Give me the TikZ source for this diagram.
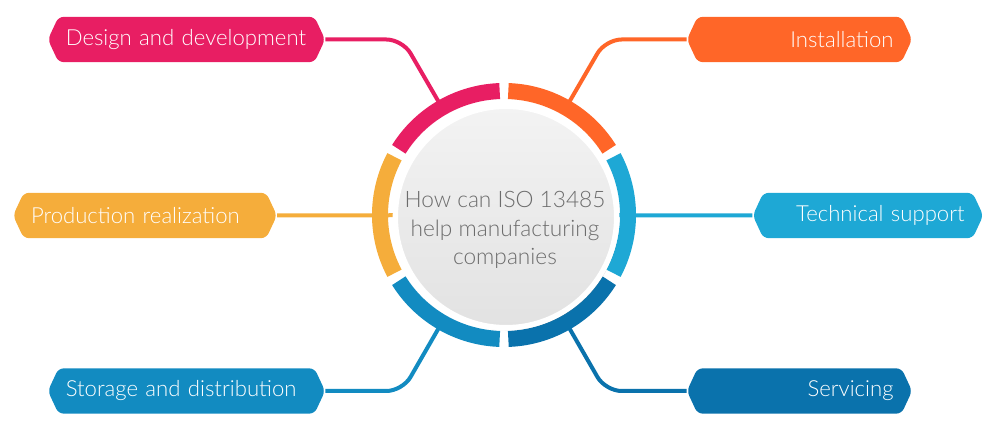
\documentclass[tikz,border=0pt]{standalone}
\usepackage{fontspec}
\setmainfont{Lato}
\newfontfamily\lightfont{Lato Light}
\usetikzlibrary{
  shapes.symbols,
  positioning,
  calc,
  shadows
}
\definecolor{designcolor}{HTML}{E81E63}
\definecolor{installcolor}{HTML}{FF6628}
\definecolor{productioncolor}{HTML}{F5AD3B}
\definecolor{supportcolor}{HTML}{1EA8D5}
\definecolor{storagecolor}{HTML}{128BC1}
\definecolor{servicingcolor}{HTML}{0A72AC}
\definecolor{questioncolor}{HTML}{6C6C6C}
\definecolor{hubtop}{HTML}{F3F3F3}
\definecolor{hubbottom}{HTML}{E2E2E2}
\tikzset{
labeltag/.style={
  signal,
  signal to=west and east,
  signal pointer angle=130,
  rounded corners=4pt,
  minimum height=34pt,
  inner xsep=3pt,
  inner ysep=0pt,
  font=\lightfont\fontsize{16.6}{19}\selectfont,
  text=white
},
lefttag/.style={
  labeltag,
  align=left,
  execute at begin node=\hspace*{2.5pt}
},
righttag/.style={
  labeltag,
  align=right,
  execute at end node=\hspace*{3pt}
},
link/.style={
  line width=3pt,
  rounded corners=12pt
},
ringpart/.style={
  line width=12pt
},
hub/.style={
  circle,
  minimum size=166pt,
  draw=white,
  line width=4pt,
  top color=hubtop,
  bottom color=hubbottom,
  drop shadow={opacity=0.2, shadow xshift=1.5pt, shadow yshift=-2pt}
},
questiontext/.style={
  align=center,
  font=\lightfont\fontsize{17}{21.4}\selectfont,
  text=questioncolor
}
}

\begin{document}
\begin{tikzpicture}[x=0.75pt,y=-0.75pt]
\useasboundingbox (0,0) rectangle (1000,434);
\coordinate (centre) at (504,215);

% topic tags
\node[lefttag, fill=designcolor, text width=186pt] (design) at (186.5,39.5) {Design and development};
\node[righttag, fill=installcolor, text width=147pt] (install) at (799.5,39.5) {Installation};
\node[lefttag, fill=productioncolor, text width=176pt] (production) at (145,215.5) {Production realization};
\node[righttag, fill=supportcolor, text width=151pt] (support) at (868,215.5) {Technical support};
\node[lefttag, fill=storagecolor, text width=186pt] (storage) at (186.5,391) {Storage and distribution};
\node[righttag, fill=servicingcolor, text width=147pt] (servicing) at (799.5,391) {Servicing};

% points where the links meet the ring
\coordinate (ring-design) at ($(centre)+(-120:125)$);
\coordinate (ring-install) at ($(centre)+(-60:125)$);
\coordinate (ring-storage) at ($(centre)+(120:125)$);
\coordinate (ring-servicing) at ($(centre)+(60:125)$);
\coordinate (bend-design) at (402.5,39.5);
\coordinate (bend-install) at (605.5,39.5);
\coordinate (bend-storage) at (402.5,391);
\coordinate (bend-servicing) at (605.5,391);

% links
\draw[link, designcolor] (ring-design) -- (bend-design) -- (design.east);
\draw[link, installcolor] (ring-install) -- (bend-install) -- (install.west);
\draw[link, storagecolor] (ring-storage) -- (bend-storage) -- (storage.east);
\draw[link, servicingcolor] (ring-servicing) -- (bend-servicing) -- (servicing.west);
\draw[link, productioncolor] (production.east) -- (centre);
\draw[link, supportcolor] (support.west) -- (centre);

% coloured ring
\foreach \col/\a in {designcolor/-150, installcolor/-90, supportcolor/-30,
                     servicingcolor/30, storagecolor/90, productioncolor/150}
  \draw[ringpart, \col] ($(centre)+(\a+2:124)$) arc[start angle=\a+2, end angle=\a+58, radius=124];

% hub
\node[hub] (hub) at (506,217) {};
\node[questiontext] (question) at (505,230) {How can ISO 13485\\help manufacturing\\companies};
\end{tikzpicture}
\end{document}
